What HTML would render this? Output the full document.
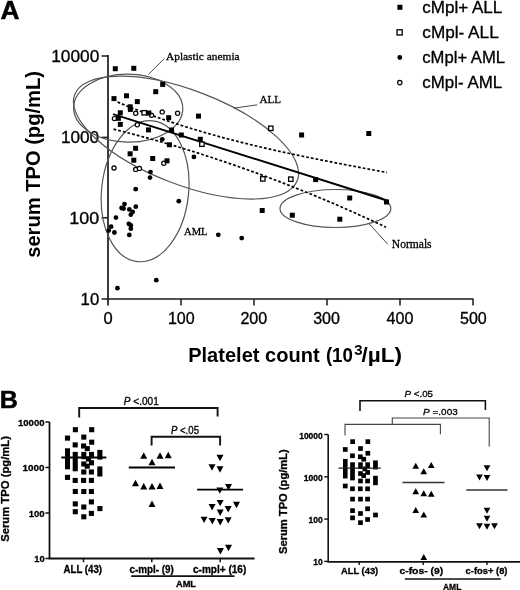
<!DOCTYPE html>
<html><head><meta charset="utf-8"><style>
html,body{margin:0;padding:0;background:#fff;}
body{width:520px;height:590px;overflow:hidden;}
svg{display:block;will-change:transform;}
</style></head><body>
<svg width="520" height="590" viewBox="0 0 520 590">
<rect width="520" height="590" fill="#fff"/>
<text stroke="#000" stroke-width="0.5" x="0.60" y="18.70" font-size="25.5" font-weight="bold" font-style="normal" font-family='"Liberation Sans", sans-serif' fill="#000" textLength="19.00" lengthAdjust="spacingAndGlyphs">A</text>
<line x1="108.00" y1="55.00" x2="108.00" y2="305.50" stroke="#1a1a1a" stroke-width="1.7" />
<line x1="101.50" y1="299.00" x2="473.50" y2="299.00" stroke="#1a1a1a" stroke-width="1.7" />
<line x1="101.50" y1="56.00" x2="108.00" y2="56.00" stroke="#1a1a1a" stroke-width="1.5" />
<line x1="101.50" y1="137.40" x2="108.00" y2="137.40" stroke="#1a1a1a" stroke-width="1.5" />
<line x1="101.50" y1="217.80" x2="108.00" y2="217.80" stroke="#1a1a1a" stroke-width="1.5" />
<line x1="181.00" y1="299.00" x2="181.00" y2="305.50" stroke="#1a1a1a" stroke-width="1.5" />
<line x1="254.00" y1="299.00" x2="254.00" y2="305.50" stroke="#1a1a1a" stroke-width="1.5" />
<line x1="327.00" y1="299.00" x2="327.00" y2="305.50" stroke="#1a1a1a" stroke-width="1.5" />
<line x1="400.00" y1="299.00" x2="400.00" y2="305.50" stroke="#1a1a1a" stroke-width="1.5" />
<line x1="473.00" y1="299.00" x2="473.00" y2="305.50" stroke="#1a1a1a" stroke-width="1.5" />
<text stroke="#000" stroke-width="0.3" x="51.20" y="61.60" font-size="15.6" font-weight="normal" font-style="normal" font-family='"Liberation Sans", sans-serif' fill="#000" textLength="48.20" lengthAdjust="spacingAndGlyphs">10000</text>
<text stroke="#000" stroke-width="0.3" x="60.90" y="142.80" font-size="15.6" font-weight="normal" font-style="normal" font-family='"Liberation Sans", sans-serif' fill="#000" textLength="38.30" lengthAdjust="spacingAndGlyphs">1000</text>
<text stroke="#000" stroke-width="0.3" x="69.30" y="224.20" font-size="15.6" font-weight="normal" font-style="normal" font-family='"Liberation Sans", sans-serif' fill="#000" textLength="29.90" lengthAdjust="spacingAndGlyphs">100</text>
<text stroke="#000" stroke-width="0.3" x="80.60" y="304.80" font-size="15.6" font-weight="normal" font-style="normal" font-family='"Liberation Sans", sans-serif' fill="#000" textLength="18.60" lengthAdjust="spacingAndGlyphs">10</text>
<text stroke="#000" stroke-width="0.3" x="103.40" y="324.00" font-size="15.8" font-weight="normal" font-style="normal" font-family='"Liberation Sans", sans-serif' fill="#000" textLength="9.20" lengthAdjust="spacingAndGlyphs">0</text>
<text stroke="#000" stroke-width="0.3" x="167.90" y="324.00" font-size="15.8" font-weight="normal" font-style="normal" font-family='"Liberation Sans", sans-serif' fill="#000" textLength="26.80" lengthAdjust="spacingAndGlyphs">100</text>
<text stroke="#000" stroke-width="0.3" x="240.40" y="324.00" font-size="15.8" font-weight="normal" font-style="normal" font-family='"Liberation Sans", sans-serif' fill="#000" textLength="26.80" lengthAdjust="spacingAndGlyphs">200</text>
<text stroke="#000" stroke-width="0.3" x="313.20" y="324.00" font-size="15.8" font-weight="normal" font-style="normal" font-family='"Liberation Sans", sans-serif' fill="#000" textLength="26.80" lengthAdjust="spacingAndGlyphs">300</text>
<text stroke="#000" stroke-width="0.3" x="386.60" y="324.00" font-size="15.8" font-weight="normal" font-style="normal" font-family='"Liberation Sans", sans-serif' fill="#000" textLength="26.80" lengthAdjust="spacingAndGlyphs">400</text>
<text stroke="#000" stroke-width="0.3" x="460.00" y="324.00" font-size="15.8" font-weight="normal" font-style="normal" font-family='"Liberation Sans", sans-serif' fill="#000" textLength="26.80" lengthAdjust="spacingAndGlyphs">500</text>
<text x="188.20" y="361.70" font-size="19.8" font-weight="bold" font-style="normal" font-family='"Liberation Sans", sans-serif' fill="#000" textLength="131.40" lengthAdjust="spacingAndGlyphs">Platelet count</text>
<text x="325.90" y="361.70" font-size="19.8" font-weight="bold" font-style="normal" font-family='"Liberation Sans", sans-serif' fill="#000" textLength="27.00" lengthAdjust="spacingAndGlyphs">(10</text>
<text x="354.30" y="355.30" font-size="15.0" font-weight="bold" font-style="normal" font-family='"Liberation Sans", sans-serif' fill="#000" textLength="8.30" lengthAdjust="spacingAndGlyphs">3</text>
<text x="361.50" y="361.70" font-size="19.8" font-weight="bold" font-style="normal" font-family='"Liberation Sans", sans-serif' fill="#000" textLength="40.50" lengthAdjust="spacingAndGlyphs">/µL)</text>
<text transform="translate(39.70,257.80) rotate(-90)" x="0" y="0" font-size="20.5" font-weight="bold" font-family='"Liberation Sans", sans-serif' fill="#000" textLength="186.75" lengthAdjust="spacingAndGlyphs">serum TPO (pg/mL)</text>
<rect x="397.40" y="4.80" width="5" height="5" fill="#000"/>
<text stroke="#000" stroke-width="0.3" x="422.30" y="13.10" font-size="15.6" font-weight="normal" font-style="normal" font-family='"Liberation Sans", sans-serif' fill="#000" textLength="80.00" lengthAdjust="spacingAndGlyphs">cMpl+ ALL</text>
<rect x="397.00" y="29.80" width="5.2" height="5.2" fill="#fff" stroke="#000" stroke-width="1.3"/>
<text stroke="#000" stroke-width="0.3" x="422.30" y="38.20" font-size="15.6" font-weight="normal" font-style="normal" font-family='"Liberation Sans", sans-serif' fill="#000" textLength="76.40" lengthAdjust="spacingAndGlyphs">cMpl- ALL</text>
<circle cx="399.80" cy="57.50" r="2.4" fill="#000"/>
<text stroke="#000" stroke-width="0.3" x="422.30" y="63.30" font-size="15.6" font-weight="normal" font-style="normal" font-family='"Liberation Sans", sans-serif' fill="#000" textLength="82.70" lengthAdjust="spacingAndGlyphs">cMpl+ AML</text>
<circle cx="399.80" cy="82.60" r="2.20" fill="#fff" stroke="#000" stroke-width="1.2"/>
<text stroke="#000" stroke-width="0.3" x="422.30" y="88.40" font-size="15.6" font-weight="normal" font-style="normal" font-family='"Liberation Sans", sans-serif' fill="#000" textLength="79.90" lengthAdjust="spacingAndGlyphs">cMpl- AML</text>
<ellipse cx="128.20" cy="108.20" rx="54.60" ry="34.00" transform="rotate(0.70 128.20 108.20)" fill="none" stroke="#555" stroke-width="1.2"/>
<ellipse cx="186.00" cy="137.60" rx="119.30" ry="47.10" transform="rotate(21.10 186.00 137.60)" fill="none" stroke="#555" stroke-width="1.2"/>
<ellipse cx="145.10" cy="191.20" rx="43.50" ry="70.80" transform="rotate(6.20 145.10 191.20)" fill="none" stroke="#555" stroke-width="1.2"/>
<ellipse cx="335.40" cy="208.50" rx="55.40" ry="19.00" transform="rotate(0.00 335.40 208.50)" fill="none" stroke="#555" stroke-width="1.2"/>
<line x1="164.40" y1="58.50" x2="148.40" y2="74.50" stroke="#333" stroke-width="0.9" />
<text x="166.00" y="60.40" font-size="10.5" font-family='"Liberation Serif", serif' fill="#000" stroke="#000" stroke-width="0.28" textLength="73.60" lengthAdjust="spacingAndGlyphs">Aplastic anemia</text>
<line x1="257.30" y1="104.80" x2="233.80" y2="108.20" stroke="#333" stroke-width="0.9" />
<text x="259.40" y="103.30" font-size="11.3" font-family='"Liberation Serif", serif' fill="#000" stroke="#000" stroke-width="0.28" textLength="21.60" lengthAdjust="spacingAndGlyphs">ALL</text>
<text x="184.00" y="235.20" font-size="11.2" font-family='"Liberation Serif", serif' fill="#000" stroke="#000" stroke-width="0.28" textLength="23.60" lengthAdjust="spacingAndGlyphs">AML</text>
<line x1="387.70" y1="244.20" x2="369.40" y2="224.00" stroke="#333" stroke-width="0.9" />
<text x="391.80" y="247.50" font-size="11.5" font-family='"Liberation Serif", serif' fill="#000" stroke="#000" stroke-width="0.28" textLength="39.80" lengthAdjust="spacingAndGlyphs">Normals</text>
<line x1="113.00" y1="114.11" x2="387.70" y2="200.70" stroke="#000" stroke-width="2.0" />
<polyline points="117.5,102.06 121.5,103.71 125.5,105.34 129.5,106.94 133.5,108.51 137.5,110.06 141.5,111.58 145.5,113.07 149.5,114.54 153.5,115.99 157.5,117.41 161.5,118.81 165.5,120.18 169.5,121.53 173.5,122.86 177.5,124.16 181.5,125.45 185.5,126.71 189.5,127.95 193.5,129.17 197.5,130.38 201.5,131.56 205.5,132.72 209.5,133.87 213.5,134.99 217.5,136.10 221.5,137.19 225.5,138.27 229.5,139.32 233.5,140.36 237.5,141.39 241.5,142.40 245.5,143.40 249.5,144.38 253.5,145.34 257.5,146.30 261.5,147.24 265.5,148.17 269.5,149.08 273.5,149.99 277.5,150.88 281.5,151.76 285.5,152.63 289.5,153.49 293.5,154.34 297.5,155.18 301.5,156.02 305.5,156.84 309.5,157.66 313.5,158.47 317.5,159.27 321.5,160.06 325.5,160.85 329.5,161.64 333.5,162.41 337.5,163.19 341.5,163.95 345.5,164.72 349.5,165.48 353.5,166.23 357.5,166.99 361.5,167.74 365.5,168.49 369.5,169.24 373.5,169.98 377.5,170.73 381.5,171.48 385.5,172.22 387.0,172.50" fill="none" stroke="#000" stroke-width="1.7" stroke-dasharray="2.8,2.0"/>
<polyline points="113.5,129.17 117.5,130.17 121.5,131.19 125.5,132.21 129.5,133.25 133.5,134.31 137.5,135.37 141.5,136.45 145.5,137.55 149.5,138.65 153.5,139.77 157.5,140.90 161.5,142.05 165.5,143.20 169.5,144.37 173.5,145.56 177.5,146.75 181.5,147.96 185.5,149.19 189.5,150.42 193.5,151.67 197.5,152.93 201.5,154.21 205.5,155.49 209.5,156.79 213.5,158.11 217.5,159.44 221.5,160.78 225.5,162.13 229.5,163.49 233.5,164.87 237.5,166.26 241.5,167.67 245.5,169.09 249.5,170.52 253.5,171.96 257.5,173.42 261.5,174.89 265.5,176.37 269.5,177.87 273.5,179.38 277.5,180.90 281.5,182.44 285.5,183.98 289.5,185.54 293.5,187.12 297.5,188.71 301.5,190.31 305.5,191.92 309.5,193.55 313.5,195.19 317.5,196.84 321.5,198.50 325.5,200.18 329.5,201.87 333.5,203.58 337.5,205.30 341.5,207.03 345.5,208.77 349.5,210.53 353.5,212.30 357.5,214.08 361.5,215.87 365.5,217.68 369.5,219.50 373.5,221.34 377.5,223.19 381.5,225.05 385.5,226.92 386.0,227.16" fill="none" stroke="#000" stroke-width="1.7" stroke-dasharray="2.8,2.0"/>
<circle cx="114.40" cy="118.60" r="2.10" fill="#fff" stroke="#000" stroke-width="1.2"/>
<circle cx="135.70" cy="113.30" r="2.10" fill="#fff" stroke="#000" stroke-width="1.2"/>
<circle cx="151.50" cy="115.20" r="2.10" fill="#fff" stroke="#000" stroke-width="1.2"/>
<circle cx="162.20" cy="111.90" r="2.10" fill="#fff" stroke="#000" stroke-width="1.2"/>
<circle cx="177.60" cy="113.20" r="2.10" fill="#fff" stroke="#000" stroke-width="1.2"/>
<circle cx="137.30" cy="124.80" r="2.10" fill="#fff" stroke="#000" stroke-width="1.2"/>
<circle cx="114.00" cy="168.00" r="2.10" fill="#fff" stroke="#000" stroke-width="1.2"/>
<circle cx="135.70" cy="169.40" r="2.10" fill="#fff" stroke="#000" stroke-width="1.2"/>
<circle cx="139.40" cy="168.40" r="2.10" fill="#fff" stroke="#000" stroke-width="1.2"/>
<circle cx="163.80" cy="163.30" r="2.10" fill="#fff" stroke="#000" stroke-width="1.2"/>
<rect x="142.00" y="110.60" width="4.4" height="4.4" fill="#fff" stroke="#000" stroke-width="1.3"/>
<rect x="199.70" y="142.00" width="4.4" height="4.4" fill="#fff" stroke="#000" stroke-width="1.3"/>
<rect x="260.60" y="176.70" width="4.4" height="4.4" fill="#fff" stroke="#000" stroke-width="1.3"/>
<rect x="288.60" y="177.00" width="4.4" height="4.4" fill="#fff" stroke="#000" stroke-width="1.3"/>
<rect x="268.60" y="126.10" width="4.4" height="4.4" fill="#fff" stroke="#000" stroke-width="1.3"/>
<rect x="112.80" y="66.20" width="5.0" height="5.0" fill="#000"/>
<rect x="131.30" y="65.80" width="5.0" height="5.0" fill="#000"/>
<rect x="160.20" y="81.90" width="5.0" height="5.0" fill="#000"/>
<rect x="153.20" y="89.20" width="5.0" height="5.0" fill="#000"/>
<rect x="111.50" y="96.10" width="5.0" height="5.0" fill="#000"/>
<rect x="124.00" y="93.30" width="5.0" height="5.0" fill="#000"/>
<rect x="134.80" y="99.10" width="5.0" height="5.0" fill="#000"/>
<rect x="127.70" y="104.30" width="5.0" height="5.0" fill="#000"/>
<rect x="127.90" y="106.90" width="5.0" height="5.0" fill="#000"/>
<rect x="117.80" y="110.30" width="5.0" height="5.0" fill="#000"/>
<rect x="115.90" y="115.80" width="5.0" height="5.0" fill="#000"/>
<rect x="117.80" y="121.90" width="5.0" height="5.0" fill="#000"/>
<rect x="146.30" y="110.50" width="5.0" height="5.0" fill="#000"/>
<rect x="166.20" y="115.20" width="5.0" height="5.0" fill="#000"/>
<rect x="196.00" y="113.60" width="5.0" height="5.0" fill="#000"/>
<rect x="146.00" y="127.40" width="5.0" height="5.0" fill="#000"/>
<rect x="169.10" y="127.50" width="5.0" height="5.0" fill="#000"/>
<rect x="178.80" y="132.50" width="5.0" height="5.0" fill="#000"/>
<rect x="197.80" y="136.80" width="5.0" height="5.0" fill="#000"/>
<rect x="166.90" y="142.30" width="5.0" height="5.0" fill="#000"/>
<rect x="133.10" y="145.80" width="5.0" height="5.0" fill="#000"/>
<rect x="127.60" y="151.30" width="5.0" height="5.0" fill="#000"/>
<rect x="131.30" y="157.70" width="5.0" height="5.0" fill="#000"/>
<rect x="150.20" y="156.00" width="5.0" height="5.0" fill="#000"/>
<rect x="164.50" y="158.30" width="5.0" height="5.0" fill="#000"/>
<rect x="299.10" y="132.50" width="5.0" height="5.0" fill="#000"/>
<rect x="366.30" y="131.00" width="5.0" height="5.0" fill="#000"/>
<rect x="313.10" y="177.10" width="5.0" height="5.0" fill="#000"/>
<rect x="347.20" y="195.50" width="5.0" height="5.0" fill="#000"/>
<rect x="384.00" y="199.50" width="5.0" height="5.0" fill="#000"/>
<rect x="337.30" y="216.70" width="5.0" height="5.0" fill="#000"/>
<rect x="259.70" y="208.00" width="5.0" height="5.0" fill="#000"/>
<rect x="289.80" y="212.70" width="5.0" height="5.0" fill="#000"/>
<circle cx="162.30" cy="139.30" r="2.4" fill="#000"/>
<circle cx="193.90" cy="156.90" r="2.4" fill="#000"/>
<circle cx="150.50" cy="172.10" r="2.4" fill="#000"/>
<circle cx="150.00" cy="177.60" r="2.4" fill="#000"/>
<circle cx="135.70" cy="189.20" r="2.4" fill="#000"/>
<circle cx="178.80" cy="201.20" r="2.4" fill="#000"/>
<circle cx="124.50" cy="204.10" r="2.4" fill="#000"/>
<circle cx="121.60" cy="208.00" r="2.4" fill="#000"/>
<circle cx="123.60" cy="208.50" r="2.4" fill="#000"/>
<circle cx="135.80" cy="206.70" r="2.4" fill="#000"/>
<circle cx="129.30" cy="209.40" r="2.4" fill="#000"/>
<circle cx="132.70" cy="211.80" r="2.4" fill="#000"/>
<circle cx="130.80" cy="214.70" r="2.4" fill="#000"/>
<circle cx="115.90" cy="217.60" r="2.4" fill="#000"/>
<circle cx="128.80" cy="223.80" r="2.4" fill="#000"/>
<circle cx="130.80" cy="225.30" r="2.4" fill="#000"/>
<circle cx="130.80" cy="228.70" r="2.4" fill="#000"/>
<circle cx="111.10" cy="226.70" r="2.4" fill="#000"/>
<circle cx="108.70" cy="230.60" r="2.4" fill="#000"/>
<circle cx="114.40" cy="232.50" r="2.4" fill="#000"/>
<circle cx="129.30" cy="234.90" r="2.4" fill="#000"/>
<circle cx="218.30" cy="234.80" r="2.4" fill="#000"/>
<circle cx="241.70" cy="238.10" r="2.4" fill="#000"/>
<circle cx="156.30" cy="280.20" r="2.4" fill="#000"/>
<circle cx="117.40" cy="288.20" r="2.4" fill="#000"/>
<text stroke="#000" stroke-width="0.5" x="-0.30" y="408.30" font-size="24.2" font-weight="bold" font-style="normal" font-family='"Liberation Sans", sans-serif' fill="#000" textLength="18.10" lengthAdjust="spacingAndGlyphs">B</text>
<line x1="49.50" y1="422.00" x2="49.50" y2="558.50" stroke="#111" stroke-width="1.8" />
<line x1="48.60" y1="558.50" x2="254.60" y2="558.50" stroke="#111" stroke-width="1.8" />
<line x1="45.40" y1="422.00" x2="49.50" y2="422.00" stroke="#111" stroke-width="1.5" />
<line x1="45.40" y1="467.50" x2="49.50" y2="467.50" stroke="#111" stroke-width="1.5" />
<line x1="45.40" y1="513.00" x2="49.50" y2="513.00" stroke="#111" stroke-width="1.5" />
<line x1="45.40" y1="558.50" x2="49.50" y2="558.50" stroke="#111" stroke-width="1.5" />
<line x1="83.50" y1="558.50" x2="83.50" y2="562.20" stroke="#111" stroke-width="1.5" />
<line x1="151.80" y1="558.50" x2="151.80" y2="562.20" stroke="#111" stroke-width="1.5" />
<line x1="220.20" y1="558.50" x2="220.20" y2="562.20" stroke="#111" stroke-width="1.5" />
<text stroke="#000" stroke-width="0.3" x="18.00" y="425.90" font-size="9.8" font-weight="bold" font-style="normal" font-family='"Liberation Sans", sans-serif' fill="#000" textLength="26.50" lengthAdjust="spacingAndGlyphs">10000</text>
<text stroke="#000" stroke-width="0.3" x="22.60" y="471.40" font-size="9.8" font-weight="bold" font-style="normal" font-family='"Liberation Sans", sans-serif' fill="#000" textLength="21.90" lengthAdjust="spacingAndGlyphs">1000</text>
<text stroke="#000" stroke-width="0.3" x="28.70" y="516.90" font-size="9.8" font-weight="bold" font-style="normal" font-family='"Liberation Sans", sans-serif' fill="#000" textLength="16.00" lengthAdjust="spacingAndGlyphs">100</text>
<text stroke="#000" stroke-width="0.3" x="34.30" y="561.80" font-size="9.8" font-weight="bold" font-style="normal" font-family='"Liberation Sans", sans-serif' fill="#000" textLength="10.40" lengthAdjust="spacingAndGlyphs">10</text>
<text stroke="#000" stroke-width="0.3" transform="translate(9.10,541.80) rotate(-90)" x="0" y="0" font-size="11.3" font-weight="bold" font-family='"Liberation Sans", sans-serif' fill="#000" textLength="105.70" lengthAdjust="spacingAndGlyphs">Serum TPO (pg/mL)</text>
<text stroke="#000" stroke-width="0.3" x="63.50" y="573.20" font-size="10.2" font-weight="bold" font-style="normal" font-family='"Liberation Sans", sans-serif' fill="#000" textLength="38.60" lengthAdjust="spacingAndGlyphs">ALL (43)</text>
<text stroke="#000" stroke-width="0.3" x="129.50" y="573.20" font-size="10.2" font-weight="bold" font-style="normal" font-family='"Liberation Sans", sans-serif' fill="#000" textLength="44.30" lengthAdjust="spacingAndGlyphs">c-mpl- (9)</text>
<text stroke="#000" stroke-width="0.3" x="193.00" y="573.20" font-size="10.2" font-weight="bold" font-style="normal" font-family='"Liberation Sans", sans-serif' fill="#000" textLength="53.30" lengthAdjust="spacingAndGlyphs">c-mpl+ (16)</text>
<line x1="131.20" y1="576.10" x2="234.50" y2="576.10" stroke="#111" stroke-width="1.8" />
<text stroke="#000" stroke-width="0.3" x="176.00" y="587.00" font-size="9.3" font-weight="bold" font-style="normal" font-family='"Liberation Sans", sans-serif' fill="#000" textLength="20.00" lengthAdjust="spacingAndGlyphs">AML</text>
<path d="M79.2,417.6 L79.2,408.0 L217.6,408.0 L217.6,416.4" stroke="#111" stroke-width="1.9" fill="none" />
<text stroke="#000" stroke-width="0.3" x="123.80" y="404.60" font-size="10.2" font-weight="normal" font-style="normal" font-family='"Liberation Sans", sans-serif' fill="#000" textLength="35.00" lengthAdjust="spacingAndGlyphs"><tspan font-style="italic">P</tspan> &lt;.001</text>
<path d="M151.6,445.6 L151.6,436.8 L220.1,436.8 L220.1,445.6" stroke="#111" stroke-width="1.9" fill="none" />
<text stroke="#000" stroke-width="0.3" x="170.90" y="433.50" font-size="10.2" font-weight="normal" font-style="normal" font-family='"Liberation Sans", sans-serif' fill="#000" textLength="28.10" lengthAdjust="spacingAndGlyphs"><tspan font-style="italic">P</tspan> &lt;.05</text>
<rect x="72.85" y="427.15" width="5.10" height="5.10" fill="#000"/>
<rect x="89.15" y="427.15" width="5.10" height="5.10" fill="#000"/>
<rect x="64.95" y="435.55" width="5.10" height="5.10" fill="#000"/>
<rect x="81.25" y="434.55" width="5.10" height="5.10" fill="#000"/>
<rect x="89.15" y="439.65" width="5.10" height="5.10" fill="#000"/>
<rect x="72.65" y="442.35" width="5.10" height="5.10" fill="#000"/>
<rect x="81.05" y="443.45" width="5.10" height="5.10" fill="#000"/>
<rect x="84.75" y="446.05" width="5.10" height="5.10" fill="#000"/>
<rect x="81.25" y="469.45" width="5.10" height="5.10" fill="#000"/>
<rect x="88.85" y="469.45" width="5.10" height="5.10" fill="#000"/>
<rect x="84.65" y="463.65" width="5.10" height="5.10" fill="#000"/>
<rect x="64.95" y="474.85" width="5.10" height="5.10" fill="#000"/>
<rect x="72.65" y="477.85" width="5.10" height="5.10" fill="#000"/>
<rect x="81.05" y="477.85" width="5.10" height="5.10" fill="#000"/>
<rect x="88.85" y="477.85" width="5.10" height="5.10" fill="#000"/>
<rect x="72.75" y="488.95" width="5.10" height="5.10" fill="#000"/>
<rect x="81.25" y="488.95" width="5.10" height="5.10" fill="#000"/>
<rect x="88.85" y="488.95" width="5.10" height="5.10" fill="#000"/>
<rect x="88.85" y="499.35" width="5.10" height="5.10" fill="#000"/>
<rect x="72.75" y="501.35" width="5.10" height="5.10" fill="#000"/>
<rect x="81.25" y="504.45" width="5.10" height="5.10" fill="#000"/>
<rect x="97.35" y="506.05" width="5.10" height="5.10" fill="#000"/>
<rect x="72.75" y="509.15" width="5.10" height="5.10" fill="#000"/>
<rect x="88.85" y="510.85" width="5.10" height="5.10" fill="#000"/>
<rect x="81.25" y="514.25" width="5.10" height="5.10" fill="#000"/>
<rect x="88.95" y="460.25" width="5.10" height="5.10" fill="#000"/>
<rect x="81.25" y="461.45" width="5.10" height="5.10" fill="#000"/>
<rect x="85.95" y="456.45" width="5.10" height="5.10" fill="#000"/>
<rect x="65.00" y="448.30" width="5.00" height="21.00" fill="#000"/>
<rect x="72.70" y="451.90" width="5.10" height="19.40" fill="#000"/>
<rect x="81.30" y="451.90" width="5.00" height="7.30" fill="#000"/>
<rect x="89.00" y="451.90" width="5.00" height="6.40" fill="#000"/>
<rect x="97.30" y="449.90" width="5.10" height="9.70" fill="#000"/>
<rect x="97.30" y="466.40" width="5.10" height="10.10" fill="#000"/>
<line x1="61.30" y1="457.50" x2="106.30" y2="457.50" stroke="#000" stroke-width="1.8" />
<path d="M140.25,458.70 L147.25,458.70 L143.75,452.30 Z" fill="#000"/>
<path d="M148.50,465.20 L155.50,465.20 L152.00,458.80 Z" fill="#000"/>
<path d="M156.50,458.70 L163.50,458.70 L160.00,452.30 Z" fill="#000"/>
<path d="M164.75,458.20 L171.75,458.20 L168.25,451.80 Z" fill="#000"/>
<path d="M132.00,486.20 L139.00,486.20 L135.50,479.80 Z" fill="#000"/>
<path d="M140.25,489.45 L147.25,489.45 L143.75,483.05 Z" fill="#000"/>
<path d="M148.50,489.45 L155.50,489.45 L152.00,483.05 Z" fill="#000"/>
<path d="M156.50,488.95 L163.50,488.95 L160.00,482.55 Z" fill="#000"/>
<path d="M148.50,506.95 L155.50,506.95 L152.00,500.55 Z" fill="#000"/>
<line x1="128.75" y1="467.50" x2="175.00" y2="467.50" stroke="#000" stroke-width="1.8" />
<path d="M216.50,454.80 L223.50,454.80 L220.00,461.20 Z" fill="#000"/>
<path d="M208.50,464.30 L215.50,464.30 L212.00,470.70 Z" fill="#000"/>
<path d="M216.50,466.30 L223.50,466.30 L220.00,472.70 Z" fill="#000"/>
<path d="M225.00,484.00 L232.00,484.00 L228.50,490.40 Z" fill="#000"/>
<path d="M216.30,487.40 L223.30,487.40 L219.80,493.80 Z" fill="#000"/>
<path d="M216.70,499.90 L223.70,499.90 L220.20,506.30 Z" fill="#000"/>
<path d="M208.60,504.00 L215.60,504.00 L212.10,510.40 Z" fill="#000"/>
<path d="M233.00,501.80 L240.00,501.80 L236.50,508.20 Z" fill="#000"/>
<path d="M224.70,506.10 L231.70,506.10 L228.20,512.50 Z" fill="#000"/>
<path d="M216.70,509.50 L223.70,509.50 L220.20,515.90 Z" fill="#000"/>
<path d="M200.60,516.70 L207.60,516.70 L204.10,523.10 Z" fill="#000"/>
<path d="M208.80,518.10 L215.80,518.10 L212.30,524.50 Z" fill="#000"/>
<path d="M216.70,519.10 L223.70,519.10 L220.20,525.50 Z" fill="#000"/>
<path d="M224.70,517.20 L231.70,517.20 L228.20,523.60 Z" fill="#000"/>
<path d="M216.90,548.00 L223.90,548.00 L220.40,554.40 Z" fill="#000"/>
<path d="M225.00,544.80 L232.00,544.80 L228.50,551.20 Z" fill="#000"/>
<line x1="197.10" y1="489.60" x2="243.10" y2="489.60" stroke="#000" stroke-width="1.8" />
<line x1="328.20" y1="434.50" x2="328.20" y2="561.90" stroke="#111" stroke-width="1.6" />
<line x1="327.40" y1="561.90" x2="520.00" y2="561.90" stroke="#111" stroke-width="1.6" />
<line x1="324.20" y1="434.50" x2="328.20" y2="434.50" stroke="#111" stroke-width="1.4" />
<line x1="324.20" y1="476.80" x2="328.20" y2="476.80" stroke="#111" stroke-width="1.4" />
<line x1="324.20" y1="519.10" x2="328.20" y2="519.10" stroke="#111" stroke-width="1.4" />
<line x1="324.20" y1="561.40" x2="328.20" y2="561.40" stroke="#111" stroke-width="1.4" />
<line x1="359.20" y1="561.90" x2="359.20" y2="565.00" stroke="#111" stroke-width="1.4" />
<line x1="423.20" y1="561.90" x2="423.20" y2="565.00" stroke="#111" stroke-width="1.4" />
<line x1="487.00" y1="561.90" x2="487.00" y2="565.00" stroke="#111" stroke-width="1.4" />
<text stroke="#000" stroke-width="0.3" x="299.20" y="439.00" font-size="8.4" font-weight="bold" font-style="normal" font-family='"Liberation Sans", sans-serif' fill="#000" textLength="23.60" lengthAdjust="spacingAndGlyphs">10000</text>
<text stroke="#000" stroke-width="0.3" x="303.80" y="480.60" font-size="8.4" font-weight="bold" font-style="normal" font-family='"Liberation Sans", sans-serif' fill="#000" textLength="19.00" lengthAdjust="spacingAndGlyphs">1000</text>
<text stroke="#000" stroke-width="0.3" x="308.60" y="523.10" font-size="8.4" font-weight="bold" font-style="normal" font-family='"Liberation Sans", sans-serif' fill="#000" textLength="14.20" lengthAdjust="spacingAndGlyphs">100</text>
<text stroke="#000" stroke-width="0.3" x="313.30" y="565.30" font-size="8.4" font-weight="bold" font-style="normal" font-family='"Liberation Sans", sans-serif' fill="#000" textLength="9.50" lengthAdjust="spacingAndGlyphs">10</text>
<text stroke="#000" stroke-width="0.3" transform="translate(287.00,553.90) rotate(-90)" x="0" y="0" font-size="10.6" font-weight="bold" font-family='"Liberation Sans", sans-serif' fill="#000" textLength="104.60" lengthAdjust="spacingAndGlyphs">Serum TPO (pg/mL)</text>
<text stroke="#000" stroke-width="0.3" x="341.00" y="574.30" font-size="9.8" font-weight="bold" font-style="normal" font-family='"Liberation Sans", sans-serif' fill="#000" textLength="37.20" lengthAdjust="spacingAndGlyphs">ALL (43)</text>
<text stroke="#000" stroke-width="0.3" x="399.40" y="574.30" font-size="9.8" font-weight="bold" font-style="normal" font-family='"Liberation Sans", sans-serif' fill="#000" textLength="43.90" lengthAdjust="spacingAndGlyphs">c-fos- (9)</text>
<text stroke="#000" stroke-width="0.3" x="465.60" y="574.30" font-size="9.8" font-weight="bold" font-style="normal" font-family='"Liberation Sans", sans-serif' fill="#000" textLength="41.90" lengthAdjust="spacingAndGlyphs">c-fos+ (8)</text>
<line x1="404.90" y1="579.00" x2="500.80" y2="579.00" stroke="#111" stroke-width="1.6" />
<text stroke="#000" stroke-width="0.3" x="443.00" y="589.50" font-size="9.8" font-weight="bold" font-style="normal" font-family='"Liberation Sans", sans-serif' fill="#000" textLength="18.30" lengthAdjust="spacingAndGlyphs">AML</text>
<path d="M360.0,411.0 L360.0,400.8 L485.4,400.8 L485.4,410.0" stroke="#111" stroke-width="1.6" fill="none" />
<text stroke="#000" stroke-width="0.3" x="404.60" y="396.90" font-size="9.8" font-weight="normal" font-style="normal" font-family='"Liberation Sans", sans-serif' fill="#000" textLength="28.40" lengthAdjust="spacingAndGlyphs"><tspan font-style="italic">P</tspan> &lt;.05</text>
<path d="M392.3,424.4 L392.3,418.0 L489.2,418.0 L489.2,446.4" stroke="#444" stroke-width="1.1" fill="none" />
<path d="M345.0,435.4 L345.0,424.4 L440.4,424.4 L440.4,434.3" stroke="#444" stroke-width="1.1" fill="none" />
<text stroke="#000" stroke-width="0.3" x="423.10" y="415.30" font-size="9.8" font-weight="normal" font-style="normal" font-family='"Liberation Sans", sans-serif' fill="#000" textLength="34.60" lengthAdjust="spacingAndGlyphs"><tspan font-style="italic">P</tspan> =.003</text>
<rect x="350.30" y="439.31" width="4.70" height="4.70" fill="#000"/>
<rect x="365.50" y="439.31" width="4.70" height="4.70" fill="#000"/>
<rect x="342.93" y="447.12" width="4.70" height="4.70" fill="#000"/>
<rect x="358.13" y="446.19" width="4.70" height="4.70" fill="#000"/>
<rect x="365.50" y="450.93" width="4.70" height="4.70" fill="#000"/>
<rect x="350.11" y="453.44" width="4.70" height="4.70" fill="#000"/>
<rect x="357.94" y="454.46" width="4.70" height="4.70" fill="#000"/>
<rect x="361.39" y="456.88" width="4.70" height="4.70" fill="#000"/>
<rect x="358.13" y="478.63" width="4.70" height="4.70" fill="#000"/>
<rect x="365.22" y="478.63" width="4.70" height="4.70" fill="#000"/>
<rect x="361.30" y="473.24" width="4.70" height="4.70" fill="#000"/>
<rect x="342.93" y="483.65" width="4.70" height="4.70" fill="#000"/>
<rect x="350.11" y="486.44" width="4.70" height="4.70" fill="#000"/>
<rect x="357.94" y="486.44" width="4.70" height="4.70" fill="#000"/>
<rect x="365.22" y="486.44" width="4.70" height="4.70" fill="#000"/>
<rect x="350.20" y="496.76" width="4.70" height="4.70" fill="#000"/>
<rect x="358.13" y="496.76" width="4.70" height="4.70" fill="#000"/>
<rect x="365.22" y="496.76" width="4.70" height="4.70" fill="#000"/>
<rect x="365.22" y="506.43" width="4.70" height="4.70" fill="#000"/>
<rect x="350.20" y="508.29" width="4.70" height="4.70" fill="#000"/>
<rect x="358.13" y="511.17" width="4.70" height="4.70" fill="#000"/>
<rect x="373.14" y="512.66" width="4.70" height="4.70" fill="#000"/>
<rect x="350.20" y="515.54" width="4.70" height="4.70" fill="#000"/>
<rect x="365.22" y="517.12" width="4.70" height="4.70" fill="#000"/>
<rect x="358.13" y="520.28" width="4.70" height="4.70" fill="#000"/>
<rect x="365.31" y="470.08" width="4.70" height="4.70" fill="#000"/>
<rect x="358.13" y="471.20" width="4.70" height="4.70" fill="#000"/>
<rect x="362.51" y="466.55" width="4.70" height="4.70" fill="#000"/>
<rect x="342.98" y="458.95" width="4.61" height="19.52" fill="#000"/>
<rect x="350.16" y="462.30" width="4.70" height="18.04" fill="#000"/>
<rect x="358.18" y="462.30" width="4.61" height="6.79" fill="#000"/>
<rect x="365.36" y="462.30" width="4.61" height="5.95" fill="#000"/>
<rect x="373.10" y="460.44" width="4.70" height="9.02" fill="#000"/>
<rect x="373.10" y="475.78" width="4.70" height="9.39" fill="#000"/>
<line x1="338.50" y1="468.10" x2="380.80" y2="468.10" stroke="#222" stroke-width="1.4" />
<path d="M412.40,468.75 L419.10,468.75 L415.75,462.75 Z" fill="#000"/>
<path d="M420.40,474.25 L427.10,474.25 L423.75,468.25 Z" fill="#000"/>
<path d="M427.90,468.00 L434.60,468.00 L431.25,462.00 Z" fill="#000"/>
<path d="M412.40,494.25 L419.10,494.25 L415.75,488.25 Z" fill="#000"/>
<path d="M420.40,496.25 L427.10,496.25 L423.75,490.25 Z" fill="#000"/>
<path d="M427.90,496.75 L434.60,496.75 L431.25,490.75 Z" fill="#000"/>
<path d="M412.40,513.00 L419.10,513.00 L415.75,507.00 Z" fill="#000"/>
<path d="M420.40,517.50 L427.10,517.50 L423.75,511.50 Z" fill="#000"/>
<path d="M420.45,559.90 L427.15,559.90 L423.80,553.90 Z" fill="#000"/>
<line x1="402.50" y1="482.50" x2="444.50" y2="482.50" stroke="#333" stroke-width="1.4" />
<path d="M483.65,465.25 L490.35,465.25 L487.00,471.25 Z" fill="#000"/>
<path d="M476.15,474.50 L482.85,474.50 L479.50,480.50 Z" fill="#000"/>
<path d="M483.65,475.00 L490.35,475.00 L487.00,481.00 Z" fill="#000"/>
<path d="M483.65,507.75 L490.35,507.75 L487.00,513.75 Z" fill="#000"/>
<path d="M483.65,515.75 L490.35,515.75 L487.00,521.75 Z" fill="#000"/>
<path d="M476.15,523.25 L482.85,523.25 L479.50,529.25 Z" fill="#000"/>
<path d="M483.65,523.75 L490.35,523.75 L487.00,529.75 Z" fill="#000"/>
<path d="M491.15,523.25 L497.85,523.25 L494.50,529.25 Z" fill="#000"/>
<line x1="466.25" y1="490.00" x2="507.50" y2="490.00" stroke="#333" stroke-width="1.4" />
</svg>
</body></html>
